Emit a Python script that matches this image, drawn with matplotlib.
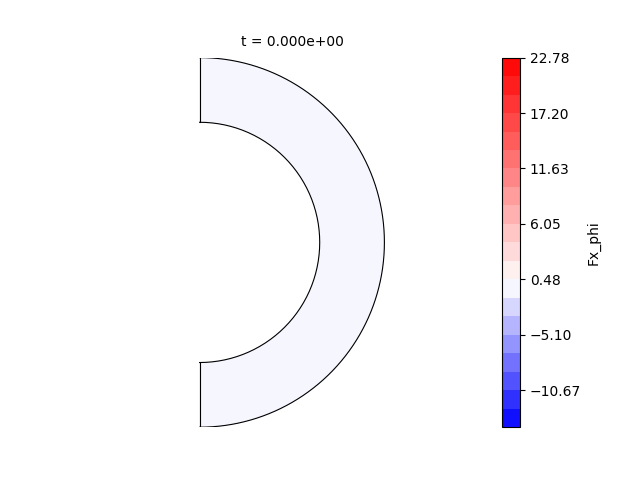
import numpy as np
import matplotlib

matplotlib.use("Agg")
import matplotlib.pyplot as plt
from matplotlib.colors import TwoSlopeNorm
from matplotlib.ticker import FuncFormatter

# colour scale of Fx_phi over the whole run (levels are evenly spaced)
FX_MIN = -14.39
FX_MAX = 22.78
N_LEVELS = 21

# half-annulus geometry (right half of the shell)
R_IN = 0.65
R_OUT = 1.0
TIME = 0.0

# field at t = 0: zero everywhere on the (r, theta) grid
r = np.linspace(R_IN, R_OUT, 30)
theta = np.linspace(-np.pi / 2, np.pi / 2, 181)
RR, TT = np.meshgrid(r, theta)
X, Y = RR * np.cos(TT), RR * np.sin(TT)
FX = np.zeros_like(RR)

levels = np.linspace(FX_MIN, FX_MAX, N_LEVELS)
norm = TwoSlopeNorm(vcenter=0.0, vmin=FX_MIN, vmax=FX_MAX)

fig, ax = plt.subplots(figsize=(6.4, 4.8), dpi=100)
cs = ax.contourf(X, Y, FX, levels=levels, cmap="bwr", norm=norm)

# outline of the domain
ax.plot(R_OUT * np.cos(theta), R_OUT * np.sin(theta), color="k", lw=0.8)
ax.plot(R_IN * np.cos(theta), R_IN * np.sin(theta), color="k", lw=0.8)
ax.plot([0, 0], [R_IN, R_OUT], color="k", lw=0.8)
ax.plot([0, 0], [-R_OUT, -R_IN], color="k", lw=0.8)

ax.set_xlim(-0.5 * R_OUT, 1.5 * R_OUT)
ax.set_ylim(-R_OUT, R_OUT)
ax.set_aspect("equal")
ax.axis("off")
ax.set_title(f"t = {TIME:.3e}", fontsize=10, pad=8.5)

cb = fig.colorbar(cs, ax=ax,
                  format=FuncFormatter(lambda v, _: f"{v:.2f}".replace("-", "\u2212")))
cb.set_label("Fx_phi")

fig.savefig("out.png", dpi=100)
